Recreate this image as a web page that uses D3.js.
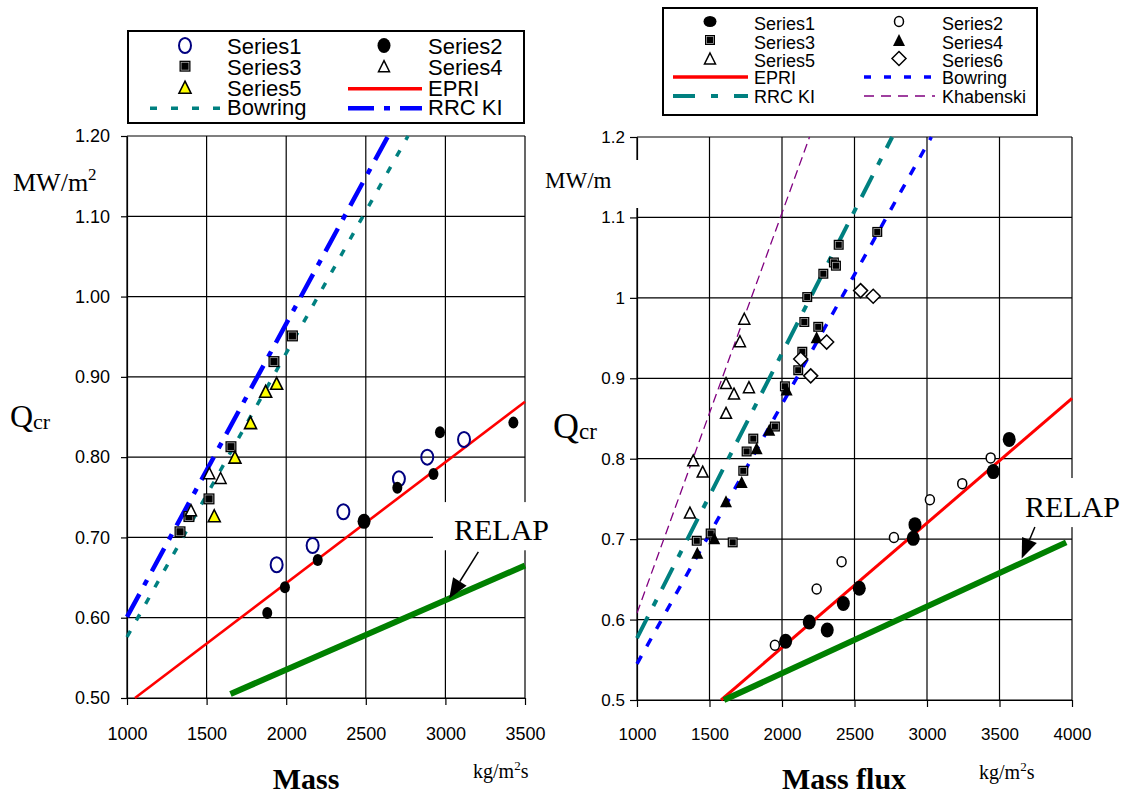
<!DOCTYPE html>
<html>
<head>
<meta charset="utf-8">
<script src="https://cdn.jsdelivr.net/npm/d3@7"></script>
<style>
  body { margin: 0; background: #fff; }
  svg { display: block; }
</style>
</head>
<body>
<div id="chart"></div>
<script>
// ---- data ----
const leftXTicks = [1000, 1500, 2000, 2500, 3000, 3500];
const rightXTicks = [1000, 1500, 2000, 2500, 3000, 3500, 4000];
const yTicks = [0.5, 0.6, 0.7, 0.8, 0.9, 1.0, 1.1, 1.2];

// left chart
const leftSeries1 = [[1940, 0.666], [2166, 0.690], [2359, 0.732], [2708, 0.773], [2886, 0.800], [3117, 0.822]];
const leftSeries2 = [[1881, 0.606], [1992, 0.638], [2198, 0.672], [2489, 0.720], [2698, 0.762], [2925, 0.779], [2966, 0.831], [3427, 0.843]];
const leftSeries3 = [[1333, 0.707], [1389, 0.726], [1515, 0.748], [1653, 0.813], [1923, 0.919], [2039, 0.951]];
const leftSeries4 = [[1402, 0.734], [1517, 0.780], [1588, 0.774]];
const leftSeries5 = [[1548, 0.727], [1678, 0.800], [1776, 0.843], [1871, 0.882], [1940, 0.892]];
const leftEPRI = [[1050, 0.50], [3500, 0.869]];
const leftRELAP = [[1650, 0.505], [3500, 0.665]];
const leftBowring = [[1000, 0.576], [2765, 1.20]];
const leftRRCKI = [[1000, 0.601], [2640, 1.20]];

// right chart
const rightSeries1 = [[2025, 0.573], [2188, 0.597], [2312, 0.587], [2423, 0.620], [2533, 0.639], [2905, 0.701], [2917, 0.718], [3457, 0.784], [3567, 0.824]];
const rightSeries2 = [[1951, 0.568], [2239, 0.638], [2411, 0.672], [2772, 0.702], [3020, 0.749], [3243, 0.769], [3439, 0.801]];
const rightSeries3 = [[1412, 0.698], [1508, 0.707], [1660, 0.696], [1733, 0.785], [1756, 0.809], [1802, 0.825], [1951, 0.840], [2020, 0.890], [2112, 0.910], [2140, 0.933], [2154, 0.970], [2250, 0.964], [2174, 1.001], [2285, 1.030], [2358, 1.044], [2372, 1.040], [2391, 1.066], [2657, 1.082]];
const rightSeries4 = [[1416, 0.683], [1533, 0.701], [1614, 0.747], [1722, 0.771], [1825, 0.813], [1912, 0.836], [2032, 0.886], [2239, 0.951]];
const rightSeries5 = [[1365, 0.733], [1388, 0.798], [1453, 0.784], [1614, 0.857], [1614, 0.894], [1669, 0.881], [1772, 0.889], [1710, 0.946], [1740, 0.974]];
const rightSeries6 = [[2129, 0.924], [2198, 0.903], [2308, 0.945], [2542, 1.009], [2629, 1.002]];
const rightEPRI = [[1580, 0.50], [4000, 0.875]];
const rightRELAP = [[1600, 0.50], [3960, 0.696]];
const rightRRCKI = [[1000, 0.577], [2760, 1.20]];
const rightBowring = [[1000, 0.545], [3030, 1.20]];
const rightKhabenski = [[1000, 0.608], [2190, 1.20]];

// RELAP callouts (data units): text anchor, arrow start, arrow tip, white box
const leftRelapNote = { text: [3054, 0.697], from: [3207, 0.682], to: [3024, 0.624], box: [2922, 3695, 0.744, 0.684] };
const rightRelapNote = { text: [3675, 0.728], from: [3744, 0.715], to: [3653, 0.676], box: [3558, 4400, 0.776, 0.715] };

// ---- setup ----
const sans = "Arial, 'Liberation Sans', sans-serif";
const serif = "'Times New Roman', 'Liberation Serif', serif";

const svg = d3.select("#chart").append("svg")
    .attr("width", 1124)
    .attr("height", 796)
    .style("background", "#fff");

const lx = d3.scaleLinear().domain([1000, 3500]).range([127, 525]);
const ly = d3.scaleLinear().domain([0.5, 1.2]).range([698, 136]);
const rx = d3.scaleLinear().domain([1000, 4000]).range([637, 1072]);
const ry = d3.scaleLinear().domain([0.5, 1.2]).range([700, 137]);

// marker helpers
function triPath(w, h) {
  return `M0,${-h / 2}L${w / 2},${h / 2}L${-w / 2},${h / 2}Z`;
}
function diamondPath(s) {
  return `M0,${-s}L${s},0L0,${s}L${-s},0Z`;
}

function drawMarker(g, kind, cx, cy, big) {
  if (kind === "openCircleBlue") {
    g.append("ellipse").attr("cx", cx).attr("cy", cy).attr("rx", 6).attr("ry", 7.5)
        .attr("fill", "none").attr("stroke", "#000080").attr("stroke-width", 2);
  } else if (kind === "dot") {
    g.append("ellipse").attr("cx", cx).attr("cy", cy).attr("rx", big ? 6.5 : 5).attr("ry", big ? 7.5 : 6)
        .attr("fill", "#000");
  } else if (kind === "openDot") {
    g.append("ellipse").attr("cx", cx).attr("cy", cy).attr("rx", 4.5).attr("ry", 5)
        .attr("fill", "#fff").attr("stroke", "#000").attr("stroke-width", 1.5);
  } else if (kind === "square") {
    const s = big ? 11 : 10;
    g.append("rect").attr("x", cx - s / 2).attr("y", cy - s / 2).attr("width", s).attr("height", s)
        .attr("fill", "#000");
    g.append("rect").attr("x", cx - s / 2 + 1.6).attr("y", cy - s / 2 + 1.6).attr("width", s - 3.2).attr("height", s - 3.2)
        .attr("fill", "none").attr("stroke", "#bbb").attr("stroke-width", 0.7);
  } else if (kind === "openTri") {
    g.append("path").attr("d", triPath(11, 11)).attr("transform", `translate(${cx},${cy})`)
        .attr("fill", "#fff").attr("stroke", "#000").attr("stroke-width", 1.5);
  } else if (kind === "fillTri") {
    g.append("path").attr("d", triPath(12, 12)).attr("transform", `translate(${cx},${cy})`)
        .attr("fill", "#000");
  } else if (kind === "yellowTri") {
    g.append("path").attr("d", triPath(12, 12)).attr("transform", `translate(${cx},${cy})`)
        .attr("fill", "#ffff00").attr("stroke", "#000").attr("stroke-width", 1.6);
  } else if (kind === "diamond") {
    g.append("path").attr("d", diamondPath(7)).attr("transform", `translate(${cx},${cy})`)
        .attr("fill", "#fff").attr("stroke", "#000").attr("stroke-width", 1.5);
  }
}

function drawLine(g, data, x, y, style) {
  g.append("path")
      .datum(data)
      .attr("fill", "none")
      .attr("stroke", style.color)
      .attr("stroke-width", style.width)
      .attr("stroke-dasharray", style.dash || null)
      .attr("d", d3.line().x(d => x(d[0])).y(d => y(d[1])));
}

function drawGrid(x, y, xTicks) {
  const g = svg.append("g");
  g.selectAll(".vgrid").data(xTicks).join("line")
      .attr("x1", d => x(d)).attr("x2", d => x(d))
      .attr("y1", y(1.2)).attr("y2", y(0.5))
      .attr("stroke", "#000").attr("stroke-width", 1.2);
  g.selectAll(".hgrid").data(yTicks).join("line")
      .attr("x1", x.range()[0]).attr("x2", x.range()[1])
      .attr("y1", d => y(d)).attr("y2", d => y(d))
      .attr("stroke", "#000").attr("stroke-width", 1.2);
}

function styleAxis(g, size) {
  g.selectAll("path, line").attr("stroke", "#000").attr("stroke-width", 1.2);
  g.selectAll("text").style("font-family", sans).style("font-size", size + "px").attr("fill", "#000");
}

function relapNote(note, x, y) {
  const g = svg.append("g");
  g.append("rect")
      .attr("x", x(note.box[0])).attr("y", y(note.box[2]))
      .attr("width", x(note.box[1]) - x(note.box[0]))
      .attr("height", y(note.box[3]) - y(note.box[2]))
      .attr("fill", "#fff");
  g.append("text")
      .attr("x", x(note.text[0])).attr("y", y(note.text[1]))
      .style("font-family", serif).style("font-size", "30px")
      .text("RELAP");
  return g;
}

function arrow(note, x, y) {
  const sx = x(note.from[0]), sy = y(note.from[1]);
  const tx = x(note.to[0]), ty = y(note.to[1]);
  const len = Math.hypot(tx - sx, ty - sy);
  const ux = (tx - sx) / len, uy = (ty - sy) / len;
  const hl = 20, hw = 8;
  const bx = tx - ux * hl, by = ty - uy * hl;
  svg.append("line").attr("x1", sx).attr("y1", sy).attr("x2", bx).attr("y2", by)
      .attr("stroke", "#000").attr("stroke-width", 1.5);
  svg.append("path")
      .attr("d", `M${tx},${ty}L${bx - uy * hw},${by + ux * hw}L${bx + uy * hw},${by - ux * hw}Z`)
      .attr("fill", "#000");
}

// ================= LEFT CHART =================
drawGrid(lx, ly, leftXTicks);

svg.append("g")
    .attr("transform", `translate(${lx(1000)},0)`)
    .call(d3.axisLeft(ly).tickValues(yTicks).tickFormat(d3.format(".2f")).tickSize(6).tickSizeOuter(0).tickPadding(11))
    .call(g => styleAxis(g, 18));

svg.append("g")
    .attr("transform", `translate(0,${ly(0.5)})`)
    .call(d3.axisBottom(lx).tickValues(leftXTicks).tickFormat(d3.format("d")).tickSize(7).tickSizeOuter(0).tickPadding(22))
    .call(g => styleAxis(g, 18));

relapNote(leftRelapNote, lx, ly);

drawLine(svg, leftBowring, lx, ly, { color: "#008080", width: 3.5, dash: "7,12" });
drawLine(svg, leftRRCKI, lx, ly, { color: "#0000ff", width: 4.5, dash: "26,10,6,10" });
drawLine(svg, leftEPRI, lx, ly, { color: "#ff0000", width: 2.6 });
drawLine(svg, leftRELAP, lx, ly, { color: "#008000", width: 6 });

const lm = svg.append("g");
leftSeries3.forEach(d => drawMarker(lm, "square", lx(d[0]), ly(d[1]), true));
leftSeries4.forEach(d => drawMarker(lm, "openTri", lx(d[0]), ly(d[1])));
leftSeries5.forEach(d => drawMarker(lm, "yellowTri", lx(d[0]), ly(d[1])));
leftSeries1.forEach(d => drawMarker(lm, "openCircleBlue", lx(d[0]), ly(d[1])));
leftSeries2.forEach(d => drawMarker(lm, "dot", lx(d[0]), ly(d[1]), d[0] === 2489));

arrow(leftRelapNote, lx, ly);

// axis titles
const lUnit = svg.append("text").attr("x", 13).attr("y", 191)
    .style("font-family", serif).style("font-size", "26px");
lUnit.append("tspan").text("MW/m");
lUnit.append("tspan").attr("dy", -11).style("font-size", "17px").text("2");

const lQ = svg.append("text").attr("x", 10).attr("y", 427)
    .style("font-family", serif).style("font-size", "32px");
lQ.append("tspan").text("Q");
lQ.append("tspan").attr("dy", 2).style("font-size", "22px").text("cr");

svg.append("text").attr("x", 306).attr("y", 789).attr("text-anchor", "middle")
    .style("font-family", serif).style("font-size", "30px").style("font-weight", "bold")
    .text("Mass");

const lKg = svg.append("text").attr("x", 473).attr("y", 778)
    .style("font-family", serif).style("font-size", "20px");
lKg.append("tspan").text("kg/m");
lKg.append("tspan").attr("dy", -8).style("font-size", "13px").text("2");
lKg.append("tspan").attr("dy", 8).text("s");

// left legend
const lLeg = svg.append("g");
lLeg.append("rect").attr("x", 128).attr("y", 31).attr("width", 396).attr("height", 92)
    .attr("fill", "#fff").attr("stroke", "#000").attr("stroke-width", 2);
const lRows = [54, 74.7, 95.7, 115.3];
const lLegItems = [
  { name: "Series1", col: 0, row: 0, marker: "openCircleBlue" },
  { name: "Series2", col: 1, row: 0, marker: "dot" },
  { name: "Series3", col: 0, row: 1, marker: "square" },
  { name: "Series4", col: 1, row: 1, marker: "openTri" },
  { name: "Series5", col: 0, row: 2, marker: "yellowTri" },
  { name: "EPRI", col: 1, row: 2, line: { color: "#ff0000", width: 3.5 } },
  { name: "Bowring", col: 0, row: 3, line: { color: "#008080", width: 3.5, dash: "7,14" } },
  { name: "RRC KI", col: 1, row: 3, line: { color: "#0000ff", width: 4.5, dash: "26,10,6,10" } }
];
const lCols = [{ m: 185, l0: 150, l1: 222, t: 227 }, { m: 384, l0: 348, l1: 422, t: 428 }];
lLegItems.forEach(it => {
  const c = lCols[it.col], by = lRows[it.row];
  if (it.marker) drawMarker(lLeg, it.marker, c.m, by - 8.5, true);
  if (it.line) {
    lLeg.append("line").attr("x1", c.l0).attr("x2", c.l1).attr("y1", by - 7).attr("y2", by - 7)
        .attr("stroke", it.line.color).attr("stroke-width", it.line.width)
        .attr("stroke-dasharray", it.line.dash || null);
  }
  lLeg.append("text").attr("x", c.t).attr("y", by)
      .style("font-family", sans).style("font-size", "22px").text(it.name);
});

// ================= RIGHT CHART =================
drawGrid(rx, ry, rightXTicks);

svg.append("g")
    .attr("transform", `translate(${rx(1000)},0)`)
    .call(d3.axisLeft(ry).tickValues(yTicks).tickFormat(d => String(+d.toFixed(1))).tickSize(7).tickSizeOuter(0).tickPadding(5))
    .call(g => styleAxis(g, 17));

svg.append("g")
    .attr("transform", `translate(0,${ry(0.5)})`)
    .call(d3.axisBottom(rx).tickValues(rightXTicks).tickFormat(d3.format("d")).tickSize(7).tickSizeOuter(0).tickPadding(21))
    .call(g => styleAxis(g, 17));

// white patch behind the unit label cuts the axis line
svg.append("rect").attr("x", 541).attr("y", 160).attr("width", 99).attr("height", 48).attr("fill", "#fff");
svg.append("text").attr("x", 545).attr("y", 188)
    .style("font-family", serif).style("font-size", "23px").text("MW/m");

const rQ = svg.append("text").attr("x", 553).attr("y", 438)
    .style("font-family", serif).style("font-size", "36px");
rQ.append("tspan").text("Q");
rQ.append("tspan").attr("dy", 1).style("font-size", "23px").text("cr");

relapNote(rightRelapNote, rx, ry);

drawLine(svg, rightKhabenski, rx, ry, { color: "#800080", width: 1.3, dash: "9,5" });
drawLine(svg, rightRRCKI, rx, ry, { color: "#008080", width: 4, dash: "24,12,7,12" });
drawLine(svg, rightBowring, rx, ry, { color: "#0000ff", width: 3.5, dash: "9,11" });
drawLine(svg, rightEPRI, rx, ry, { color: "#ff0000", width: 3 });
drawLine(svg, rightRELAP, rx, ry, { color: "#008000", width: 6 });

const rm = svg.append("g");
rightSeries2.forEach(d => drawMarker(rm, "openDot", rx(d[0]), ry(d[1])));
rightSeries1.forEach(d => drawMarker(rm, "dot", rx(d[0]), ry(d[1]), true));
rightSeries3.forEach(d => drawMarker(rm, "square", rx(d[0]), ry(d[1])));
rightSeries4.forEach(d => drawMarker(rm, "fillTri", rx(d[0]), ry(d[1])));
rightSeries5.forEach(d => drawMarker(rm, "openTri", rx(d[0]), ry(d[1])));
rightSeries6.forEach(d => drawMarker(rm, "diamond", rx(d[0]), ry(d[1])));

arrow(rightRelapNote, rx, ry);

svg.append("text").attr("x", 844).attr("y", 789).attr("text-anchor", "middle")
    .style("font-family", serif).style("font-size", "30px").style("font-weight", "bold")
    .text("Mass flux");

const rKg = svg.append("text").attr("x", 979).attr("y", 779)
    .style("font-family", serif).style("font-size", "20px");
rKg.append("tspan").text("kg/m");
rKg.append("tspan").attr("dy", -8).style("font-size", "13px").text("2");
rKg.append("tspan").attr("dy", 8).text("s");

// right legend
const rLeg = svg.append("g");
rLeg.append("rect").attr("x", 663).attr("y", 8).attr("width", 374).attr("height", 107)
    .attr("fill", "#fff").attr("stroke", "#000").attr("stroke-width", 2);
const rRows = [30, 48.5, 67, 84, 103];
const rLegItems = [
  { name: "Series1", col: 0, row: 0, marker: "dotLegend" },
  { name: "Series2", col: 1, row: 0, marker: "openDot" },
  { name: "Series3", col: 0, row: 1, marker: "square" },
  { name: "Series4", col: 1, row: 1, marker: "fillTri" },
  { name: "Series5", col: 0, row: 2, marker: "openTri" },
  { name: "Series6", col: 1, row: 2, marker: "diamond" },
  { name: "EPRI", col: 0, row: 3, line: { color: "#ff0000", width: 3.5 } },
  { name: "Bowring", col: 1, row: 3, line: { color: "#0000ff", width: 3.5, dash: "7,13" } },
  { name: "RRC KI", col: 0, row: 4, line: { color: "#008080", width: 4, dash: "22,16,7,16" } },
  { name: "Khabenski", col: 1, row: 4, line: { color: "#800080", width: 1.3, dash: "10,7" } }
];
const rCols = [{ m: 710, l0: 673, l1: 748, t: 754 }, { m: 899, l0: 864, l1: 935, t: 942 }];
rLegItems.forEach(it => {
  const c = rCols[it.col], by = rRows[it.row];
  if (it.marker === "dotLegend") {
    rLeg.append("ellipse").attr("cx", c.m).attr("cy", by - 8.5).attr("rx", 6.5).attr("ry", 5.5).attr("fill", "#000");
  } else if (it.marker) {
    drawMarker(rLeg, it.marker, c.m, by - 8.5);
  }
  if (it.line) {
    rLeg.append("line").attr("x1", c.l0).attr("x2", c.l1).attr("y1", by - 7).attr("y2", by - 7)
        .attr("stroke", it.line.color).attr("stroke-width", it.line.width)
        .attr("stroke-dasharray", it.line.dash || null);
  }
  rLeg.append("text").attr("x", c.t).attr("y", by)
      .style("font-family", sans).style("font-size", "18px").text(it.name);
});
</script>
</body>
</html>
